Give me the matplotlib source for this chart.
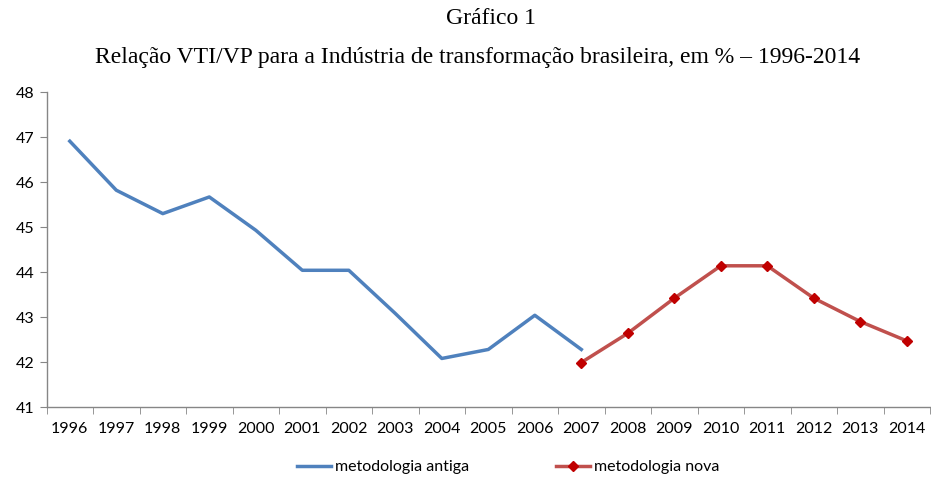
import numpy as np
import matplotlib
matplotlib.use("Agg")
import matplotlib.pyplot as plt

# Data
anos = ['1996', '1997', '1998', '1999', '2000', '2001', '2002', '2003', '2004', '2005',
        '2006', '2007', '2008', '2009', '2010', '2011', '2012', '2013', '2014']
antiga = [46.91, 45.82, 45.30, 45.67, 44.93, 44.04, 44.04, 43.08, 42.08, 42.28, 43.04, 42.28]
nova = [41.99, 42.64, 43.42, 44.14, 44.14, 43.42, 42.90, 42.47]

x = np.arange(len(anos))
x_antiga = x[:len(antiga)]
x_nova = x[len(anos) - len(nova):]

plt.rcParams['font.family'] = ['Lato', 'DejaVu Sans']

fig = plt.figure(figsize=(9.31, 4.8), dpi=100)
ax = fig.add_axes([0.050, 0.152, 0.949, 0.656])

ax.plot(x_antiga, antiga, color='#4F81BD', lw=2.5, label='metodologia antiga')
ax.plot(x_nova, nova, color='#C0504D', lw=2.5, marker='D', markersize=5.5,
        markerfacecolor='#C00000', markeredgecolor='#C00000', label='metodologia nova')

ax.set_xlim(-0.5, len(anos) - 0.5)
ax.set_ylim(41, 48)
ax.set_yticks(range(41, 49))
ax.set_xticks(x)
ax.set_xticklabels(anos)
ax.set_xticks(np.arange(-0.5, len(anos)), minor=True)
ax.tick_params(axis='x', which='major', length=0, pad=11, labelsize=11.5)
ax.tick_params(axis='x', which='minor', length=5, color='#868686', direction='out')
ax.tick_params(axis='y', length=5, color='#868686', labelsize=11.5, pad=4)

for s in ['top', 'right']:
    ax.spines[s].set_visible(False)
for s in ['left', 'bottom']:
    ax.spines[s].set_color('#868686')
    ax.spines[s].set_linewidth(1.0)

fig.text(0.527, 0.962, 'Gráfico 1', ha='center', va='center',
         fontsize=17, family='Liberation Serif')
fig.text(0.513, 0.881, 'Relação VTI/VP para a Indústria de transformação brasileira, em % – 1996-2014',
         ha='center', va='center', fontsize=17, family='Liberation Serif')

fig.legend(loc='center', bbox_to_anchor=(0.546, 0.027), ncol=2, frameon=False,
           fontsize=11.5, handlelength=2.13, handletextpad=0.25, columnspacing=5.4)

fig.savefig('out.png', dpi=100)
